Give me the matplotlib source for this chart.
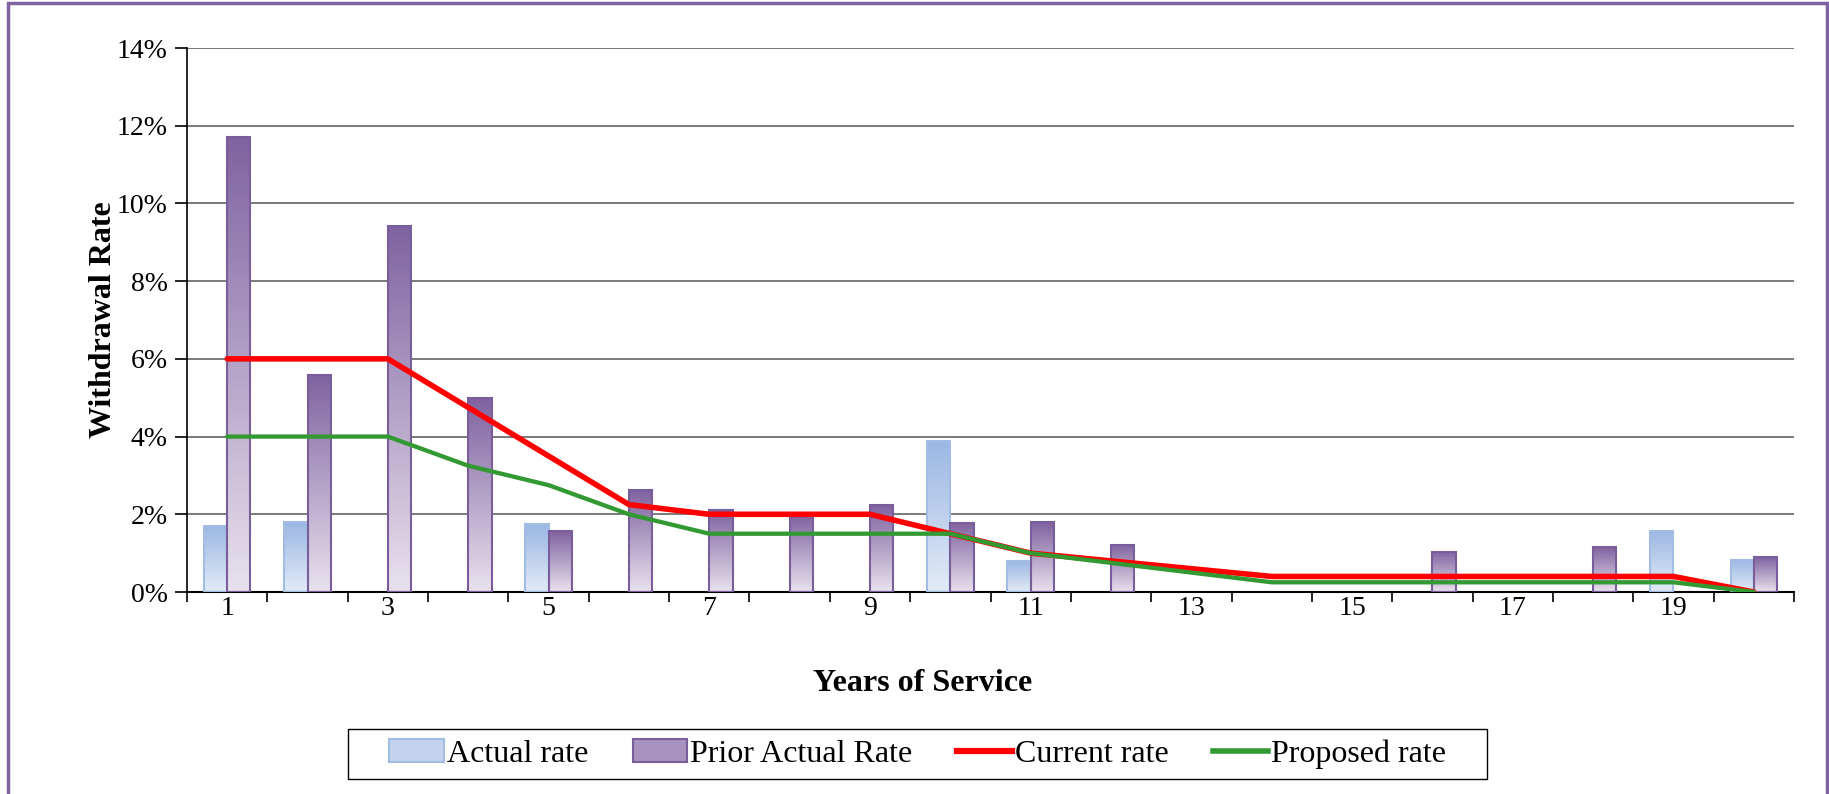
import numpy as np
import matplotlib.pyplot as plt
from matplotlib.patches import Rectangle, Patch
from matplotlib.lines import Line2D
from matplotlib.colors import LinearSegmentedColormap

plt.rcParams['font.family'] = ['Liberation Serif', 'DejaVu Serif']

# data (rates in %)
years = list(range(1, 21))
actual_rate = [1.71, 1.80, 0, 0, 1.74, 0, 0, 0, 0, 3.88,
               0.79, 0, 0, 0, 0, 0, 0, 0, 1.58, 0.83]
prior_actual_rate = [11.70, 5.59, 9.42, 4.99, 1.56, 2.62, 2.10, 1.98, 2.23, 1.78,
                     1.80, 1.22, 0, 0, 0, 1.04, 0, 1.15, 0, 0.90]
current_rate = [6, 6, 6, 4.75, 3.5, 2.25, 2, 2, 2, 1.5,
                1.0, 0.8, 0.6, 0.4, 0.4, 0.4, 0.4, 0.4, 0.4, 0]
proposed_rate = [4, 4, 4, 3.25, 2.75, 2.0, 1.5, 1.5, 1.5, 1.5,
                 1.0, 0.75, 0.5, 0.25, 0.25, 0.25, 0.25, 0.25, 0.25, 0]
y_ticks = [0, 2, 4, 6, 8, 10, 12, 14]
x_labels = [str(y) for y in years if y % 2 == 1]

blue_cmap = LinearSegmentedColormap.from_list('blue', ['#E3EBF7', '#9BB7E3'])
purple_cmap = LinearSegmentedColormap.from_list('purple', ['#E8E2EE', '#7F62A0'])


def gradient_bars(ax, xs, heights, width, cmap, edge):
    grad = np.linspace(0, 1, 256).reshape(-1, 1)
    bars = ax.bar(xs, heights, width=width, facecolor='none', edgecolor=edge,
                  linewidth=1.5, zorder=3)
    for bar, h in zip(bars, heights):
        if h <= 0:
            bar.set_visible(False)
            continue
        x0 = bar.get_x()
        im = ax.imshow(grad, cmap=cmap, origin='lower', aspect='auto',
                       extent=[x0, x0 + width, 0, h], zorder=2)
        im.set_clip_path(bar)
    return bars


fig = plt.figure(figsize=(18.29, 7.94), dpi=100)
ax = fig.add_axes([187 / 1829, 1 - 592 / 794, (1794 - 187) / 1829, (592 - 48) / 794])

# outer purple frame of the chart
fig.patches.append(Rectangle((8 / 1829, -0.05), (1827 - 8) / 1829, 1.05 - 3 / 794,
                             transform=fig.transFigure, fill=False,
                             edgecolor='#8064A2', linewidth=2.5))

w = 0.29
x = np.array(years)
gradient_bars(ax, x - w / 2, actual_rate, w, blue_cmap, '#A3BCE4')
gradient_bars(ax, x + w / 2, prior_actual_rate, w, purple_cmap, '#7A5E9C')

ax.plot(x, current_rate, color='#FF0000', linewidth=4.0, zorder=4,
        solid_capstyle='round', solid_joinstyle='round')
ax.plot(x, proposed_rate, color='#339933', linewidth=3.1, zorder=5,
        solid_capstyle='round', solid_joinstyle='round')

ax.set_xlim(0.5, 20.5)
ax.set_ylim(0, 14)
ax.set_yticks(y_ticks)
ax.set_yticklabels([f'{t}%' for t in y_ticks], fontsize=20)
ax.yaxis.grid(True, color='#707070', linewidth=1.3, zorder=0)
ax.set_axisbelow(True)

ax.set_xticks([y for y in years if y % 2 == 1])
ax.set_xticklabels(x_labels, fontsize=20)
ax.set_xticks(np.arange(0.5, 21, 1), minor=True)
ax.tick_params(axis='x', which='major', length=0, pad=3)
ax.tick_params(axis='x', which='minor', length=7, width=1.2, direction='out')
ax.tick_params(axis='y', length=9, width=1.2, pad=5)

for side in ['top', 'right']:
    ax.spines[side].set_visible(False)
ax.spines['left'].set_linewidth(1.2)
ax.spines['bottom'].set_linewidth(1.5)

ax.set_ylabel('Withdrawal Rate', fontsize=23, fontweight='bold')
ax.yaxis.set_label_coords(-0.043, 0.5)
ax.set_xlabel('Years of Service', fontsize=23, fontweight='bold')
ax.xaxis.set_label_coords(0.458, -0.142)

handles = [Patch(facecolor='#C3D3EE', edgecolor='#A3BCE4', linewidth=1.5),
           Patch(facecolor='#A792C0', edgecolor='#7A5E9C', linewidth=1.5),
           Line2D([], [], color='#FF0000', linewidth=4.5),
           Line2D([], [], color='#339933', linewidth=4)]
labels = ['Actual rate', 'Prior Actual Rate', 'Current rate', 'Proposed rate']
fig.legend(handles, labels, loc='center', bbox_to_anchor=(917.5 / 1829, 1 - 754 / 794),
           ncol=4, fontsize=23, frameon=False,
           handlelength=1.7, handletextpad=0.1, columnspacing=1.4, borderpad=0.3)
# legend box drawn separately, it has wider side padding than matplotlib's frame
fig.patches.append(Rectangle((348 / 1829, 1 - 779 / 794), (1487 - 348) / 1829, 50 / 794,
                             transform=fig.transFigure, fill=False,
                             edgecolor='black', linewidth=1.0))

fig.savefig('out.png', dpi=100)
